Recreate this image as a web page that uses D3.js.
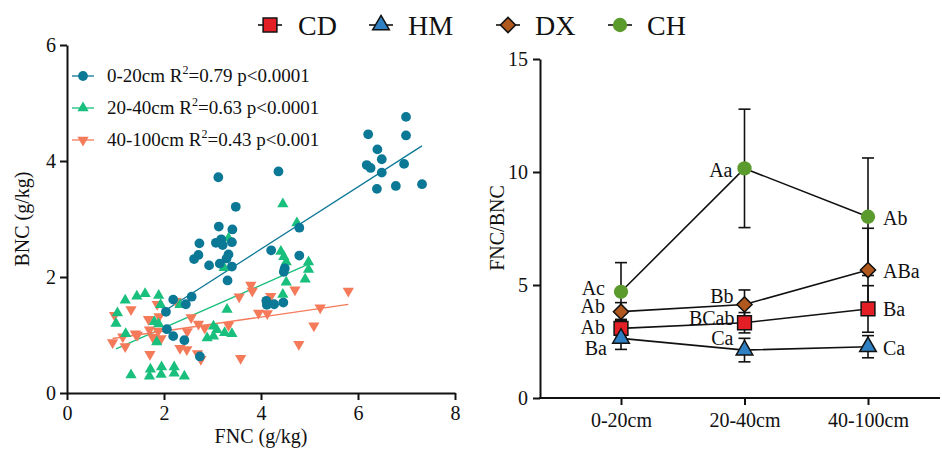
<!DOCTYPE html>
<html lang="en">
<head>
    <meta charset="UTF-8">
    <title>FNC BNC</title>
    <script src="https://cdn.jsdelivr.net/npm/d3@7/dist/d3.min.js"></script>
    <style>
        body { margin: 0; background: #fff; }
        svg text { font-family: "Liberation Serif", "Times New Roman", serif; fill: #111; }
    </style>
</head>
<body>
    <script>
        var width = 942, height = 456;

        // left panel: FNC vs BNC, [FNC, BNC] pairs per depth
        var depthNames = ["0-20cm", "20-40cm", "40-100cm"];
        var r2Text = ["0.79", "0.63", "0.43"];
        var pText = ["p<0.0001", "p<0.0001", "p<0.001"];
        var pts020 = [[6.99,4.76],[6.21,4.46],[6.99,4.44],[6.40,4.20],[6.49,4.03],[6.18,3.93],[6.26,3.88],[6.95,3.95],
            [6.49,3.80],[6.39,3.52],[6.78,3.57],[7.32,3.60],[3.12,3.72],[4.36,3.82],[3.48,3.21],[3.13,2.87],[3.41,2.82],
            [4.79,2.85],[2.73,2.58],[3.07,2.59],[3.18,2.65],[3.21,2.55],[3.40,2.60],[2.71,2.38],[2.62,2.31],[3.33,2.39],
            [3.29,2.32],[2.93,2.20],[3.15,2.23],[3.40,2.18],[3.31,1.94],[4.21,2.46],[4.79,2.37],[4.49,2.15],[4.47,2.09],
            [2.19,1.61],[2.57,1.66],[2.45,1.53],[2.04,1.40],[2.06,1.10],[2.19,0.98],[2.42,0.91],[2.74,0.63],[4.11,1.59],
            [4.12,1.52],[4.27,1.53],[4.46,1.56]];
        var pts2040 = [[4.45,3.26],[4.74,2.93],[3.33,2.67],[4.41,2.44],[4.47,2.35],[4.52,2.26],[4.98,2.26],[4.98,2.13],
            [4.91,1.96],[4.52,1.91],[4.45,1.70],[3.24,2.16],[2.33,1.52],[3.30,1.44],[1.20,1.60],[1.44,1.67],[1.61,1.71],
            [1.89,1.68],[1.93,1.52],[1.04,1.38],[1.01,1.20],[1.21,1.02],[1.80,1.23],[1.89,1.19],[1.85,0.88],[3.02,1.15],
            [3.09,1.09],[2.89,0.95],[3.02,0.98],[3.25,1.04],[3.40,1.02],[1.32,0.31],[1.72,0.41],[1.70,0.29],[1.95,0.45],
            [1.94,0.32],[2.21,0.45],[2.21,0.34],[2.42,0.29]];
        var pts40100 = [[0.94,0.87],[0.98,1.34],[1.15,0.97],[1.20,0.80],[1.32,1.44],[1.41,1.02],[1.45,1.00],[1.68,1.27],
            [1.70,1.09],[1.71,0.67],[1.86,1.53],[1.90,1.32],[1.77,0.96],[1.88,1.07],[1.94,0.94],[2.25,1.58],[2.33,0.77],
            [2.47,0.75],[2.48,1.06],[2.56,1.30],[2.69,0.68],[2.76,0.58],[2.71,1.19],[2.84,1.12],[3.33,1.17],[3.55,1.66],
            [3.58,0.60],[3.79,1.86],[3.82,1.76],[3.95,1.38],[4.13,1.37],[4.20,1.67],[4.70,1.78],[4.78,0.84],[5.09,1.16],
            [5.22,1.47],[5.80,1.76]];
        var fitIntercept = [0.337, 0.388, 0.826];
        var fitSlope = [0.536, 0.368, 0.121];

        // right panel: FNC/BNC by depth
        var depths = ["0-20cm", "20-40cm", "40-100cm"];
        var groups = ["CD", "HM", "DX", "CH"];
        var ratioCD = [3.08, 3.33, 3.94], errCD = [0.40, 0.45, 1.03];
        var ratioHM = [2.64, 2.12, 2.27], errHM = [0.49, 0.52, 0.49];
        var ratioDX = [3.82, 4.14, 5.66], errDX = [0.40, 0.64, 1.85];
        var ratioCH = [4.70, 10.16, 8.02], errCH = [1.29, 2.62, 2.60];
        var lettersCD = ["Ab", "BCab", "Ba"];
        var lettersHM = ["Ba", "Ca", "Ca"];
        var lettersDX = ["Ab", "Bb", "ABa"];
        var lettersCH = ["Ac", "Aa", "Ab"];
        var xTicksL = [0, 2, 4, 6, 8], yTicksL = [0, 2, 4, 6], yTicksR = [0, 5, 10, 15];

        var svg = d3.select("body").append("svg").attr("width", width).attr("height", height);

        // ---------- left panel
        var scatterColors = ["#0b7896", "#19bf7c", "#f47a5a"];
        var series = [pts020, pts2040, pts40100];
        var xL = d3.scaleLinear().domain([0, 8]).range([67, 455]);
        var yL = d3.scaleLinear().domain([0, 6]).range([393, 45]);

        function styleAxis(g) {
            g.select(".domain").attr("stroke", "#111").attr("stroke-width", 2);
            g.selectAll(".tick line").attr("stroke", "#111").attr("stroke-width", 2);
            g.selectAll(".tick text").attr("font-size", 20).attr("fill", "#111")
                .style("font-family", "Liberation Serif");
        }

        svg.append("g").attr("transform", "translate(0,393)")
            .call(d3.axisBottom(xL).tickValues(xTicksL).tickFormat(d3.format("d"))
                .tickSize(7).tickSizeOuter(0).tickPadding(6))
            .call(styleAxis);
        svg.append("g").attr("transform", "translate(67,0)")
            .call(d3.axisLeft(yL).tickValues(yTicksL).tickFormat(d3.format("d"))
                .tickSize(7).tickSizeOuter(0).tickPadding(4))
            .call(styleAxis);

        var markerL = [
            d3.symbol().type(d3.symbolCircle).size(75),
            d3.symbol().type(d3.symbolTriangle).size(55),
            d3.symbol().type(d3.symbolTriangle).size(55)
        ];
        var rotL = [0, 0, 180];

        // fit lines
        series.forEach(function (pts, i) {
            var ext = d3.extent(pts, function (d) { return d[0]; });
            svg.append("line")
                .attr("x1", xL(ext[0])).attr("y1", yL(fitIntercept[i] + fitSlope[i] * ext[0]))
                .attr("x2", xL(ext[1])).attr("y2", yL(fitIntercept[i] + fitSlope[i] * ext[1]))
                .attr("stroke", scatterColors[i]).attr("stroke-width", 1.3);
        });

        // points (deepest first, like the original stacking)
        [2, 1, 0].forEach(function (i) {
            svg.append("g").selectAll("path")
                .data(series[i])
                .enter()
                .append("path")
                .attr("d", markerL[i])
                .attr("fill", scatterColors[i])
                .attr("transform", function (d) {
                    return "translate(" + xL(d[0]) + "," + yL(d[1]) + ") rotate(" + rotL[i] + ")";
                });
        });

        // scatter legend
        var legL = svg.append("g");
        depthNames.forEach(function (name, i) {
            var yy = 76 + i * 32;
            var row = legL.append("g").attr("transform", "translate(0," + yy + ")");
            row.append("line").attr("x1", 72).attr("x2", 94).attr("y1", 0).attr("y2", 0)
                .attr("stroke", scatterColors[i]).attr("stroke-width", 1.3);
            row.append("path").attr("d", markerL[i])
                .attr("transform", "translate(83,0) rotate(" + rotL[i] + ")")
                .attr("fill", scatterColors[i]);
            var t = row.append("text").attr("x", 107).attr("y", 6).attr("font-size", 19);
            t.append("tspan").text(name + " R");
            t.append("tspan").attr("font-size", 12).attr("dy", -8).text("2");
            t.append("tspan").attr("dy", 8).text("=" + r2Text[i] + " " + pText[i]);
        });

        svg.append("text").attr("x", 261).attr("y", 443).attr("text-anchor", "middle")
            .attr("font-size", 20).text("FNC (g/kg)");
        svg.append("text").attr("transform", "translate(29,219) rotate(-90)").attr("text-anchor", "middle")
            .attr("font-size", 20).text("BNC (g/kg)");

        // ---------- right panel
        var xR = d3.scalePoint().domain(depths).range([621, 868]);
        var yR = d3.scaleLinear().domain([0, 15]).range([398, 59]);

        var gx = svg.append("g").attr("transform", "translate(0,398)")
            .call(d3.axisBottom(xR).tickSize(7).tickSizeOuter(0).tickPadding(8))
            .call(styleAxis);
        gx.select(".domain").remove();
        svg.append("line").attr("x1", 539).attr("x2", 940).attr("y1", 398).attr("y2", 398)
            .attr("stroke", "#111").attr("stroke-width", 2);
        svg.append("g").attr("transform", "translate(540,0)")
            .call(d3.axisLeft(yR).tickValues(yTicksR).tickSize(7).tickSizeOuter(0).tickPadding(5))
            .call(styleAxis);

        svg.append("text").attr("transform", "translate(504,228) rotate(-90)").attr("text-anchor", "middle")
            .attr("font-size", 20).text("FNC/BNC");

        var groupVals = { CD: ratioCD, HM: ratioHM, DX: ratioDX, CH: ratioCH };
        var groupErr = { CD: errCD, HM: errHM, DX: errDX, CH: errCH };
        var groupLetters = { CD: lettersCD, HM: lettersHM, DX: lettersDX, CH: lettersCH };
        var groupFill = { CD: "#e31e24", HM: "#2f80c2", DX: "#b0581e", CH: "#5b9a2c" };
        var groupStroke = { CD: "#111", HM: "#111", DX: "#111", CH: "none" };
        var groupSym = {
            CD: d3.symbol().type(d3.symbolSquare).size(190),
            HM: d3.symbol().type(d3.symbolTriangle).size(120),
            DX: d3.symbol().type(d3.symbolSquare).size(115),
            CH: d3.symbol().type(d3.symbolCircle).size(160)
        };
        var groupRot = { CD: 0, HM: 0, DX: 45, CH: 0 };
        // letter placement relative to point: [dx, dy, anchor]
        var letterPos = {
            CH: [[-16, 3, "end"], [-12, 9, "end"], [15, 8, "start"]],
            DX: [[-16, 1, "end"], [-11, -1, "end"], [15, 8, "start"]],
            CD: [[-16, 6, "end"], [-10, 2, "end"], [15, 7, "start"]],
            HM: [[-14, 17, "end"], [-11, -5, "end"], [15, 8, "start"]]
        };

        var line = d3.line()
            .x(function (d, i) { return xR(depths[i]); })
            .y(function (d) { return yR(d); });

        // error bars
        groups.forEach(function (g) {
            depths.forEach(function (dep, i) {
                var v = groupVals[g][i], e = groupErr[g][i], cx = xR(dep);
                var eg = svg.append("g").attr("stroke", "#111").attr("stroke-width", 1.6);
                eg.append("line").attr("x1", cx).attr("x2", cx).attr("y1", yR(v - e)).attr("y2", yR(v + e));
                eg.append("line").attr("x1", cx - 6).attr("x2", cx + 6).attr("y1", yR(v - e)).attr("y2", yR(v - e));
                eg.append("line").attr("x1", cx - 6).attr("x2", cx + 6).attr("y1", yR(v + e)).attr("y2", yR(v + e));
            });
        });
        // lines
        groups.forEach(function (g) {
            svg.append("path").datum(groupVals[g]).attr("d", line)
                .attr("fill", "none").attr("stroke", "#111").attr("stroke-width", 1.6);
        });
        // markers + letters
        groups.forEach(function (g) {
            svg.append("g").selectAll("path")
                .data(groupVals[g])
                .enter()
                .append("path")
                .attr("d", groupSym[g])
                .attr("fill", groupFill[g])
                .attr("stroke", groupStroke[g]).attr("stroke-width", 1.5)
                .attr("transform", function (d, i) {
                    return "translate(" + xR(depths[i]) + "," + yR(d) + ") rotate(" + groupRot[g] + ")";
                });
            svg.append("g").selectAll("text")
                .data(groupVals[g])
                .enter()
                .append("text")
                .attr("x", function (d, i) { return xR(depths[i]) + letterPos[g][i][0]; })
                .attr("y", function (d, i) { return yR(d) + letterPos[g][i][1]; })
                .attr("text-anchor", function (d, i) { return letterPos[g][i][2]; })
                .attr("font-size", 20)
                .text(function (d, i) { return groupLetters[g][i]; });
        });

        // top legend
        var legX = { CD: 270, HM: 381, DX: 508, CH: 620 };
        groups.forEach(function (g) {
            var lg = svg.append("g").attr("transform", "translate(" + legX[g] + ",25)");
            lg.append("line").attr("x1", -12).attr("x2", 12).attr("stroke", "#111").attr("stroke-width", 1.6);
            lg.append("path").attr("d", groupSym[g]).attr("fill", groupFill[g])
                .attr("stroke", groupStroke[g]).attr("stroke-width", 1.5)
                .attr("transform", "rotate(" + groupRot[g] + ")");
            lg.append("text").attr("x", g === "CD" ? 28 : 27).attr("y", 10).attr("font-size", 28).text(g);
        });
    </script>
</body>
</html>
